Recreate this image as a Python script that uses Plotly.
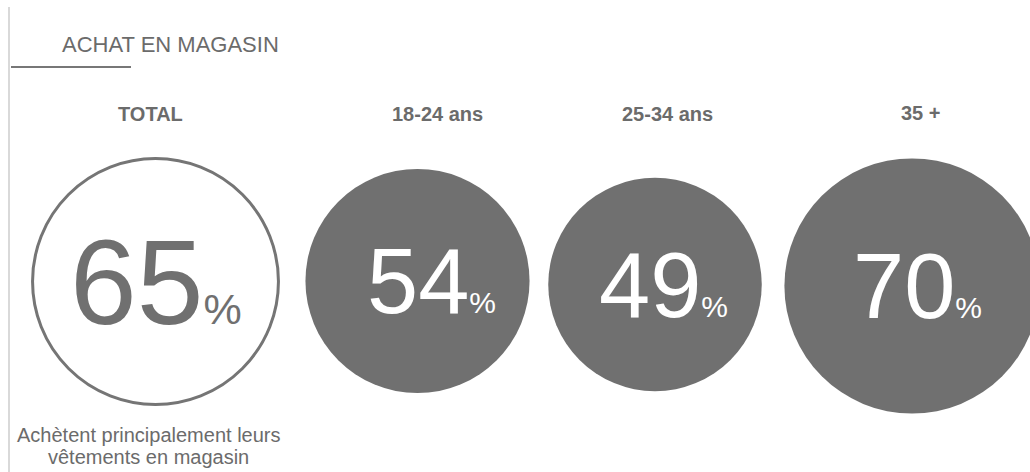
import plotly.graph_objects as go

# ---- data ----
categories = ["TOTAL", "18-24 ans", "25-34 ans", "35 +"]
values = [65, 54, 49, 70]
title_text = "ACHAT EN MAGASIN"
caption_lines = ["Achètent principalement leurs", "vêtements en magasin"]

# ---- layout (pixel space) ----
W, H = 1030, 472
col_x = [155.5, 417.5, 655, 912]
col_y = [281.5, 281, 284.5, 286]
num_x = [155.5, 431, 663, 917]
label_y = [114, 114, 114, 113]
label_x = [150, 437, 667, 920]
caption_y = [435, 457]
size_k = 15.25  # radius per sqrt(value)

FONT = "Arial, 'Liberation Sans', sans-serif"
GREY = "#707070"
TXT = "#6b6b6b"

fig = go.Figure()

diam = [2 * size_k * v ** 0.5 for v in values]

# outlined TOTAL circle
fig.add_trace(go.Scatter(
    x=col_x[:1], y=col_y[:1], mode="markers",
    marker=dict(size=diam[:1], color="white", opacity=1,
                line=dict(color="#757575", width=3)),
    hoverinfo="skip", showlegend=False))
# filled age-group circles
fig.add_trace(go.Scatter(
    x=col_x[1:], y=col_y[1:], mode="markers",
    marker=dict(size=diam[1:], color=GREY, opacity=1, line=dict(width=0)),
    hoverinfo="skip", showlegend=False))

ann = []
for i, (cat, v) in enumerate(zip(categories, values)):
    ann.append(dict(x=label_x[i], y=label_y[i], text=f"<b>{cat}</b>", showarrow=False,
                    xanchor="center", yanchor="middle",
                    font=dict(family=FONT, size=20, color=TXT)))
    if i == 0:
        big, small, col = 120, 43, GREY
    else:
        big, small, col = 92, 30, "white"
    ann.append(dict(x=num_x[i], y=col_y[i],
                    text=f"{v}<span style='font-size:{small}px'>%</span>",
                    showarrow=False, xanchor="center", yanchor="middle",
                    font=dict(family=FONT, size=big, color=col)))

ann.append(dict(x=170, y=44, text=title_text, showarrow=False, xanchor="center",
                yanchor="middle", font=dict(family=FONT, size=22, color=TXT)))
for line, yy in zip(caption_lines, caption_y):
    ann.append(dict(x=148, y=yy, text=line, showarrow=False,
                    xanchor="center", yanchor="middle",
                    font=dict(family=FONT, size=20, color=TXT)))

shapes = [
    dict(type="line", x0=9, x1=9, y0=7, y1=H, line=dict(color="#d9d9d9", width=2)),
    dict(type="line", x0=11, x1=131, y0=67, y1=67, line=dict(color="#777777", width=2)),
]

fig.update_layout(
    width=W, height=H, margin=dict(l=0, r=0, t=0, b=0),
    paper_bgcolor="white", plot_bgcolor="white",
    xaxis=dict(range=[0, W], visible=False, fixedrange=True),
    yaxis=dict(range=[H, 0], visible=False, fixedrange=True),
    annotations=ann, shapes=shapes,
)

fig.write_html("out.html", config={"displayModeBar": False})
